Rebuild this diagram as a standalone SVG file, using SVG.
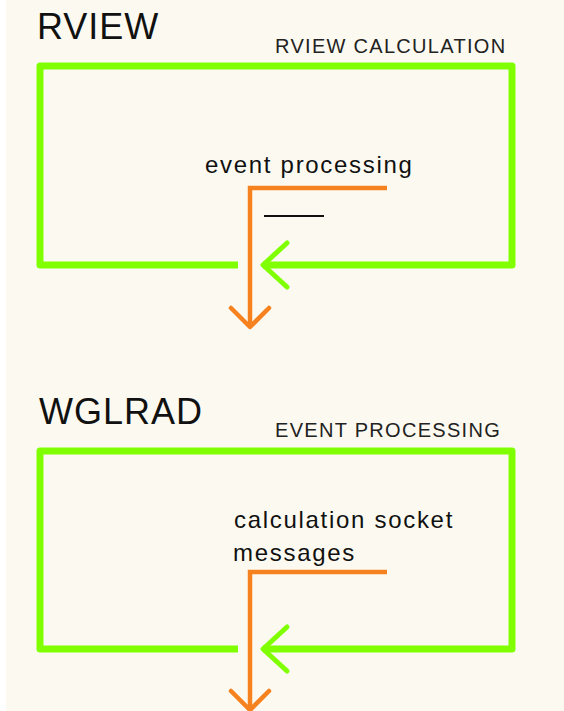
<svg xmlns="http://www.w3.org/2000/svg" width="564" height="711" viewBox="0 0 564 711">
  <style>
    .bg { fill: #fcfaf0; }
    .loop { fill: none; stroke: #7fff00; stroke-width: 7; stroke-linejoin: round; stroke-linecap: butt; }
    .loophead { fill: none; stroke: #7fff00; stroke-width: 5; stroke-linecap: round; stroke-linejoin: round; }
    .flow { fill: none; stroke: #f5821f; stroke-width: 4.5; stroke-linejoin: miter; stroke-linecap: butt; }
    .flowhead { fill: none; stroke: #f5821f; stroke-width: 4.5; stroke-linecap: round; stroke-linejoin: round; }
    .title { font-family: "Liberation Sans", Arial, sans-serif; font-size: 36px; fill: #111; letter-spacing: 1px; }
    .caption { font-family: "Liberation Sans", Arial, sans-serif; font-size: 20px; fill: #222; letter-spacing: 1.3px; }
    .label { font-family: "Liberation Sans", Arial, sans-serif; font-size: 24px; fill: #111; letter-spacing: 1.7px; }
  </style>

  <rect x="0" y="0" width="564" height="711" fill="#ffffff"/>
  <rect class="bg" x="6" y="0" width="558" height="711"/>

  <!-- RVIEW process: calculation loop -->
  <g id="rview">
    <text class="title" x="37" y="39">RVIEW</text>
    <text class="caption" x="275" y="53">RVIEW CALCULATION</text>
    <path class="loop" d="M238,265 H40 V66 H512 V265 H263"/>
    <polyline class="loophead" points="287,243 263,265 287,287"/>
    <text class="label" x="205" y="173">event processing</text>
    <line x1="264" y1="216" x2="324" y2="216" stroke="#111" stroke-width="2"/>
  </g>

  <!-- WGLRAD process: event loop -->
  <g id="wglrad">
    <text class="title" x="39" y="424">WGLRAD</text>
    <text class="caption" x="275" y="437">EVENT PROCESSING</text>
    <path class="loop" d="M238,649 H40 V451 H512 V649 H263"/>
    <polyline class="loophead" points="287,627 263,649 287,671"/>
    <text class="label" x="234" y="528">calculation socket</text>
    <text class="label" x="233" y="561">messages</text>
  </g>

  <!-- branch-out arrows leaving each loop -->
  <g id="connectors">
    <path class="flow" d="M387,188 H250 V327"/>
    <polyline class="flowhead" points="231,308 250,327 269,308"/>
    <path class="flow" d="M387,572 H250 V711"/>
    <polyline class="flowhead" points="231,691 250,710 269,691"/>
  </g>
</svg>
